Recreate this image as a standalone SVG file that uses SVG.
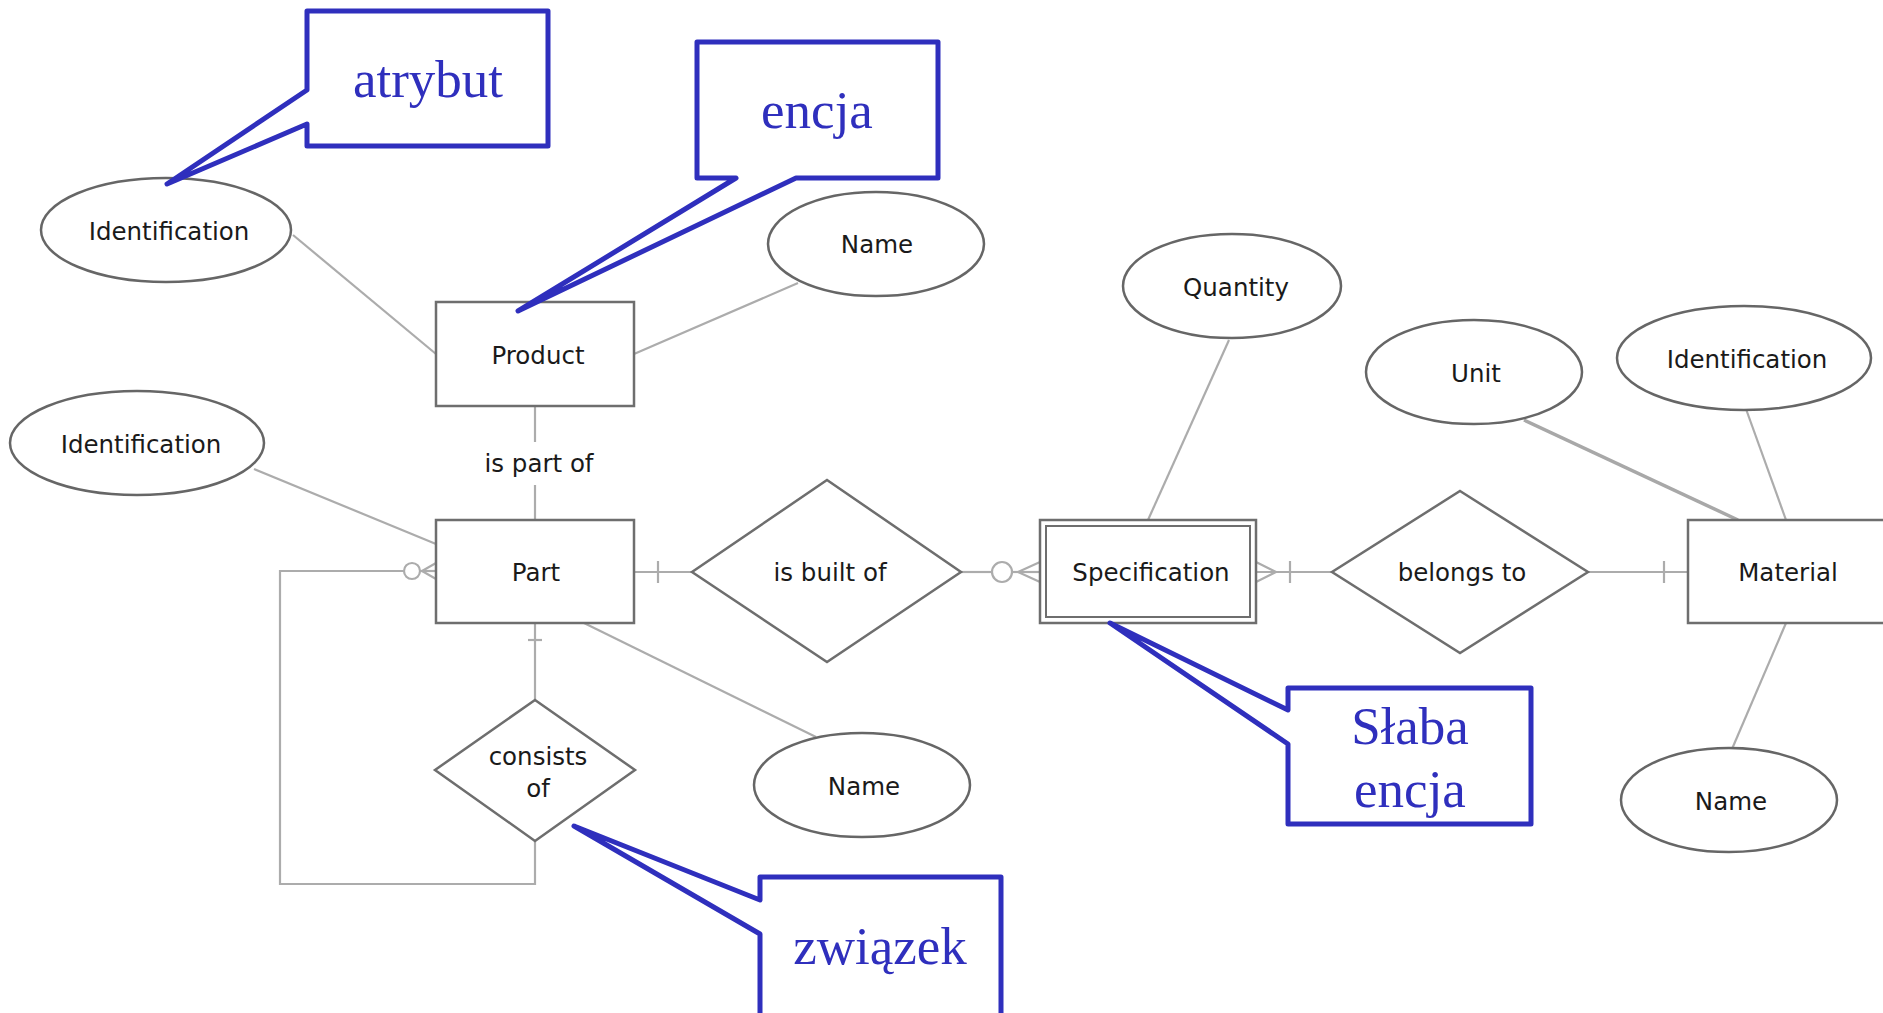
<svg xmlns="http://www.w3.org/2000/svg" width="1883" height="1013" viewBox="0 0 1883 1013">
<style>
.bg{fill:#ffffff}
.ell{fill:#ffffff;stroke:#666666;stroke-width:2.5}
.ent{fill:#ffffff;stroke:#6e6e6e;stroke-width:2.5}
.rel{fill:#ffffff;stroke:#6e6e6e;stroke-width:2.5}
.con{fill:none;stroke:#acacac;stroke-width:2.2}
.lbl{font-family:"DejaVu Sans",Verdana,sans-serif;font-size:24.5px;fill:#1a1a1a;text-anchor:middle}
.call{fill:#ffffff;stroke:#2f2fbd;stroke-width:5;stroke-linejoin:round}
.ctxt{font-family:"Liberation Serif","Times New Roman",serif;font-size:53px;fill:#2f2fbd;text-anchor:middle}
</style>
<rect class="bg" x="0" y="0" width="1883" height="1013"/>

<g id="connectors">
  <line class="con" x1="293" y1="235" x2="436" y2="354"/>
  <line class="con" x1="798" y1="283" x2="634" y2="354"/>
  <line class="con" x1="535" y1="406" x2="535" y2="442"/>
  <line class="con" x1="535" y1="485" x2="535" y2="520"/>
  <line class="con" x1="254" y1="469" x2="436" y2="544"/>
  <polyline class="con" points="403,571 280,571 280,884 535,884 535,841"/>
  <circle class="con" cx="412" cy="571" r="8"/>
  <polyline class="con" points="436,563 422,571 436,579"/>
  <line class="con" x1="420" y1="571" x2="436" y2="571"/>
  <line class="con" x1="535" y1="623" x2="535" y2="700"/>
  <line class="con" x1="528" y1="640" x2="542" y2="640"/>
  <line class="con" x1="634" y1="572" x2="692" y2="572"/>
  <line class="con" x1="658" y1="561" x2="658" y2="583"/>
  <line class="con" x1="961" y1="572" x2="992" y2="572"/>
  <circle class="con" cx="1002" cy="572" r="10"/>
  <polyline class="con" points="1040,562 1018,572 1040,582"/>
  <line class="con" x1="1012" y1="572" x2="1040" y2="572"/>
  <line class="con" x1="1229" y1="340" x2="1148" y2="520"/>
  <line class="con" x1="1256" y1="572" x2="1332" y2="572"/>
  <polyline class="con" points="1256,562 1276,572 1256,582"/>
  <line class="con" x1="1290" y1="561" x2="1290" y2="583"/>
  <line class="con" x1="1588" y1="572" x2="1688" y2="572"/>
  <line class="con" x1="1664" y1="561" x2="1664" y2="583"/>
  <line class="con" x1="1524" y1="420" x2="1738" y2="520" style="stroke-width:3.5;stroke:#a8a8a8"/>
  <line class="con" x1="1746" y1="409" x2="1786" y2="520"/>
  <line class="con" x1="1786" y1="623" x2="1732" y2="749"/>
  <line class="con" x1="584" y1="623" x2="816" y2="737"/>
  <text class="lbl" x="539" y="472">is part of</text>
</g>

<g id="attr-identification-product">
  <ellipse class="ell" cx="166" cy="230" rx="125" ry="52"/>
  <text class="lbl" x="169" y="240">Identification</text>
</g>
<g id="attr-name-product">
  <ellipse class="ell" cx="876" cy="244" rx="108" ry="52"/>
  <text class="lbl" x="877" y="253">Name</text>
</g>
<g id="entity-product">
  <rect class="ent" x="436" y="302" width="198" height="104"/>
  <text class="lbl" x="538" y="364">Product</text>
</g>
<g id="attr-identification-part">
  <ellipse class="ell" cx="137" cy="443" rx="127" ry="52"/>
  <text class="lbl" x="141" y="453">Identification</text>
</g>
<g id="entity-part">
  <rect class="ent" x="436" y="520" width="198" height="103"/>
  <text class="lbl" x="536" y="581">Part</text>
</g>
<g id="rel-consists-of">
  <polygon class="rel" points="535,700 635,770 535,841 435,770"/>
  <text class="lbl" x="538" y="765">consists</text>
  <text class="lbl" x="538" y="797">of</text>
</g>
<g id="rel-is-built-of">
  <polygon class="rel" points="827,480 961,572 827,662 692,572"/>
  <text class="lbl" x="830" y="581">is built of</text>
</g>
<g id="attr-name-part">
  <ellipse class="ell" cx="862" cy="785" rx="108" ry="52"/>
  <text class="lbl" x="864" y="795">Name</text>
</g>
<g id="entity-specification">
  <rect class="ent" x="1040" y="520" width="216" height="103"/>
  <rect class="ent" x="1046" y="526" width="204" height="91" style="stroke-width:2"/>
  <text class="lbl" x="1151" y="581">Specification</text>
</g>
<g id="attr-quantity">
  <ellipse class="ell" cx="1232" cy="286" rx="109" ry="52"/>
  <text class="lbl" x="1236" y="296">Quantity</text>
</g>
<g id="rel-belongs-to">
  <polygon class="rel" points="1460,491 1588,572 1460,653 1332,572"/>
  <text class="lbl" x="1462" y="581">belongs to</text>
</g>
<g id="entity-material">
  <rect class="ent" x="1688" y="520" width="210" height="103"/>
  <text class="lbl" x="1788" y="581">Material</text>
</g>
<g id="attr-unit">
  <ellipse class="ell" cx="1474" cy="372" rx="108" ry="52"/>
  <text class="lbl" x="1476" y="382">Unit</text>
</g>
<g id="attr-identification-material">
  <ellipse class="ell" cx="1744" cy="358" rx="127" ry="52"/>
  <text class="lbl" x="1747" y="368">Identification</text>
</g>
<g id="attr-name-material">
  <ellipse class="ell" cx="1729" cy="800" rx="108" ry="52"/>
  <text class="lbl" x="1731" y="810">Name</text>
</g>

<g id="callout-atrybut">
  <polygon class="call" points="307,11 548,11 548,146 307,146 307,124 167,184 307,90"/>
  <text class="ctxt" x="428" y="97">atrybut</text>
</g>
<g id="callout-encja">
  <polygon class="call" points="697,42 938,42 938,178 796,178 518,311 736,178 697,178"/>
  <text class="ctxt" x="817" y="128">encja</text>
</g>
<g id="callout-slaba-encja">
  <polygon class="call" points="1288,688 1531,688 1531,824 1288,824 1288,744 1110,623 1288,710"/>
  <text class="ctxt" x="1410" y="744">Słaba</text>
  <text class="ctxt" x="1410" y="807">encja</text>
</g>
<g id="callout-zwiazek">
  <polygon class="call" points="760,877 1001,877 1001,1022 760,1022 760,934 574,826 760,900"/>
  <text class="ctxt" x="880" y="964">związek</text>
</g>
</svg>
